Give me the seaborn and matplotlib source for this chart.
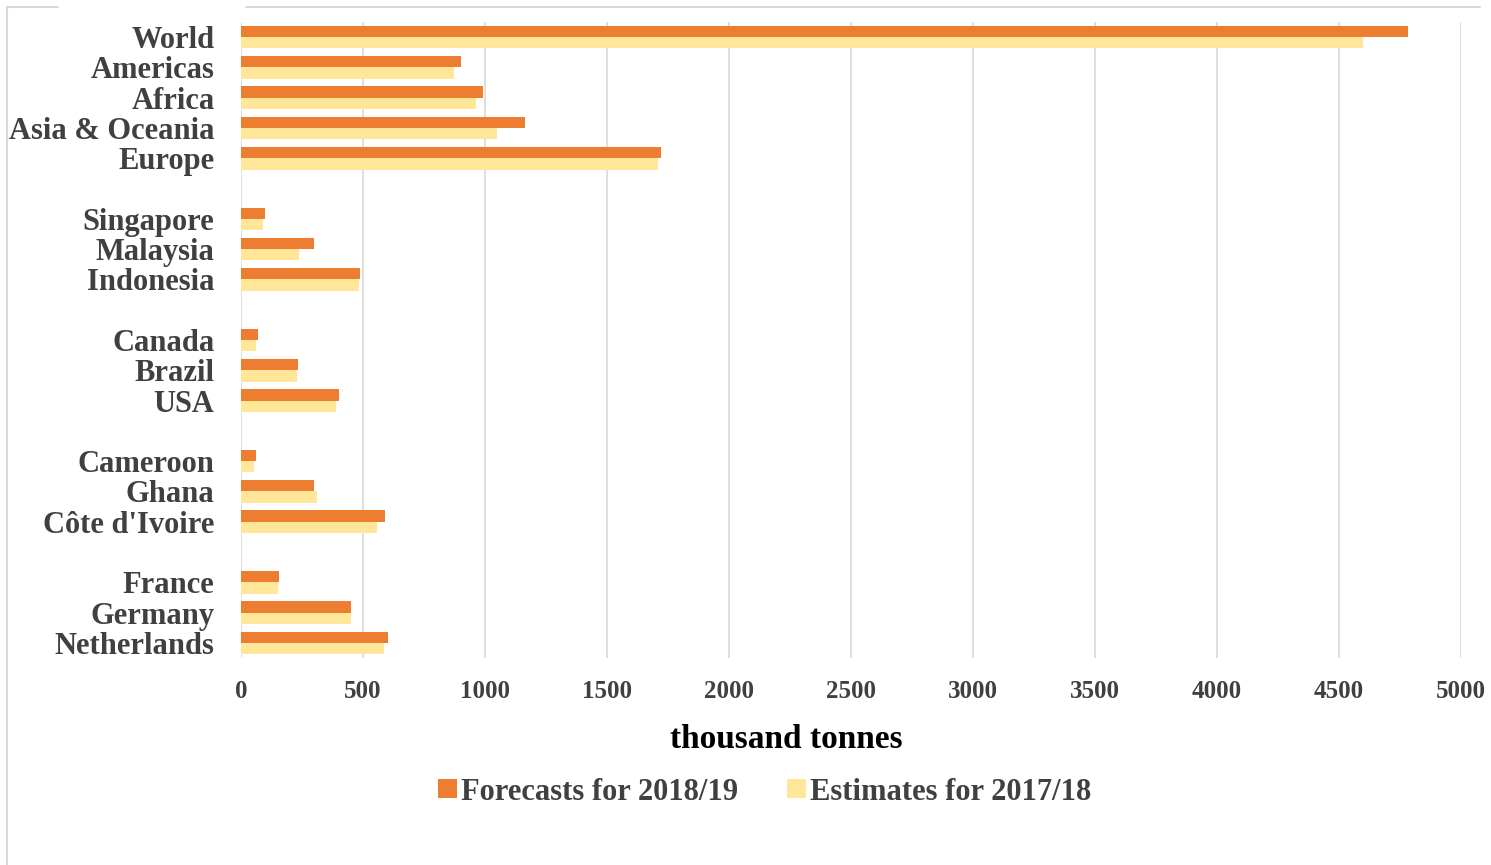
import matplotlib
matplotlib.use("Agg")
import matplotlib.pyplot as plt
from matplotlib.lines import Line2D
from matplotlib.patches import Patch
import seaborn as sns
import pandas as pd

categories = ["World", "Americas", "Africa", "Asia & Oceania", "Europe",
              " ",
              "Singapore", "Malaysia", "Indonesia",
              "  ",
              "Canada", "Brazil", "USA",
              "   ",
              "Cameroon", "Ghana", "Côte d'Ivoire",
              "    ",
              "France", "Germany", "Netherlands"]
forecasts = [4783, 902, 992, 1164, 1721,
             None,
             98, 300, 489,
             None,
             71, 232, 402,
             None,
             61, 300, 591,
             None,
             156, 451, 601]
estimates = [4598, 873, 963, 1049, 1709,
             None,
             91, 236, 484,
             None,
             63, 230, 388,
             None,
             55, 311, 559,
             None,
             153, 449, 586]
series = ["Forecasts for 2018/19", "Estimates for 2017/18"]
colors = ["#ED7D31", "#FFE699"]
xticks = [0, 500, 1000, 1500, 2000, 2500, 3000, 3500, 4000, 4500, 5000]

rows = []
for c, f, e in zip(categories, forecasts, estimates):
    if f is not None:
        rows.append({"region": c, "series": series[0], "value": f})
        rows.append({"region": c, "series": series[1], "value": e})
df = pd.DataFrame(rows)

sns.set_style("white")
plt.rcParams["font.family"] = ["Liberation Serif", "DejaVu Serif"]
plt.rcParams["font.weight"] = "bold"
txt = "#404040"

fig = plt.figure(figsize=(14.91, 8.65), dpi=100)
ax = fig.add_axes([241/1491, 1-658/865, (1461-241)/1491, (658-22)/865])

sns.barplot(data=df, y="region", x="value", hue="series", order=categories,
            hue_order=series, palette=colors, width=0.75, linewidth=0,
            saturation=1, orient="h", ax=ax, legend=False)

ax.set_xlim(0, 5000)
ax.set_ylim(len(categories) - 0.5, -0.5)
ax.set_xticks(xticks)
ax.set_xticklabels([str(t) for t in xticks], fontsize=18, color=txt, fontweight="bold")
ax.set_yticks(range(len(categories)))
ax.set_yticklabels(categories, fontsize=22, color=txt, fontweight="bold")
ax.tick_params(axis="both", length=0)
ax.tick_params(axis="y", pad=19)
ax.tick_params(axis="x", pad=16)
ax.xaxis.grid(True, color="#d9d9d9", linewidth=1.2)
ax.set_axisbelow(True)
for s in ax.spines.values():
    s.set_visible(False)
ax.set_ylabel("")
ax.set_xlabel("thousand tonnes", fontsize=24, color="black", fontweight="bold")
ax.xaxis.set_label_coords((786-241)/1220, -(740-658)/636, transform=ax.transAxes)
ax.xaxis.label.set_verticalalignment("center")

handles = [Patch(facecolor=colors[0], edgecolor="none"),
           Patch(facecolor=colors[1], edgecolor="none")]
fig.legend(handles, series, loc="center", bbox_to_anchor=(765/1491, 1-792/865),
           ncol=2, frameon=False, handlelength=0.6, handleheight=0.6,
           handletextpad=0.15, columnspacing=1.6,
           prop={"family": "Liberation Serif", "weight": "bold", "size": 22},
           labelcolor=txt)

# outer frame lines of the screenshot
fig.add_artist(Line2D([7/1491, 7/1491], [0, 1-7/865], color="#d9d9d9", linewidth=1.5))
fig.add_artist(Line2D([7/1491, 58/1491], [1-7/865, 1-7/865], color="#d9d9d9", linewidth=1.5))
fig.add_artist(Line2D([246/1491, 1480/1491], [1-7/865, 1-7/865], color="#d9d9d9", linewidth=1.5))

fig.savefig("out.png", dpi=100, facecolor="white")
